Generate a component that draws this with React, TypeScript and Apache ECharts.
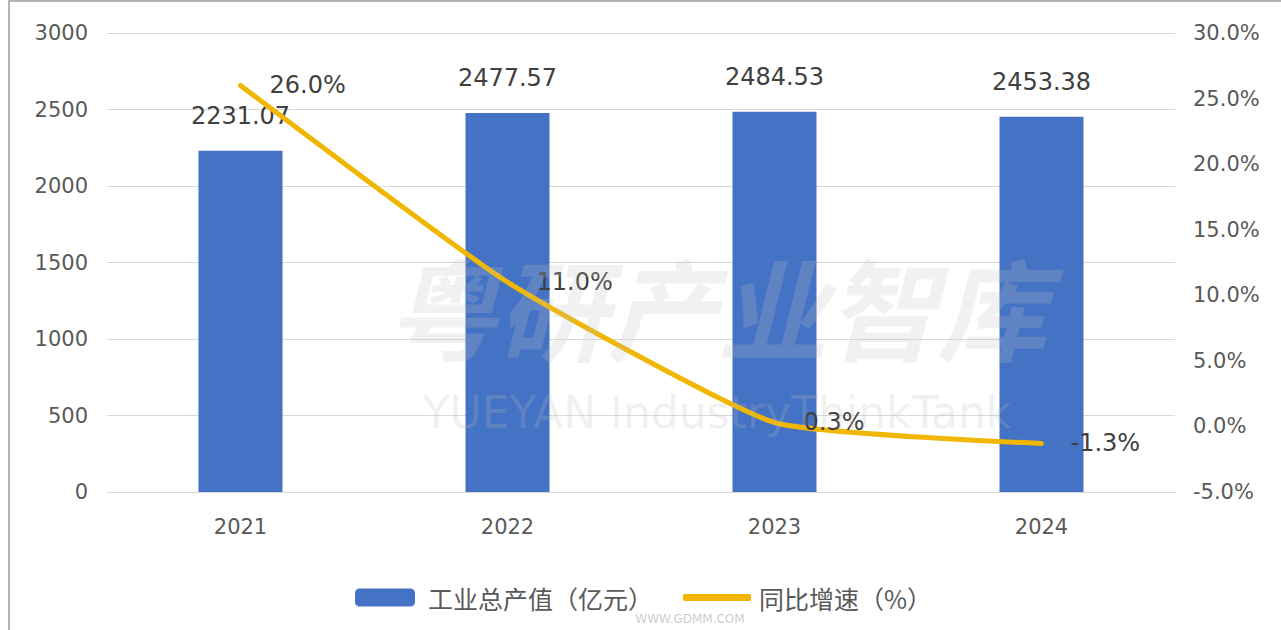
import React, { useEffect, useRef } from "react";
import * as echarts from "echarts";

const years = ["2021", "2022", "2023", "2024"];
const outputValue = [2231.07, 2477.57, 2484.53, 2453.38];
const growthRate = [26.0, 11.0, 0.3, -1.3];
const barName = "工业总产值（亿元）";
const lineName = "同比增速（%）";

const BLUE = "#4472C4";
const GOLD = "#F0B600";
const AXIS_TXT = "#595959";
const LABEL_TXT = "#404040";
const NUM_FONT = "DejaVu Sans";
const CJK_FONT = "Noto Sans CJK SC";

export default function App() {
  const ref = useRef<HTMLDivElement>(null);
  useEffect(() => {
    if (!ref.current) return;
    const chart = echarts.init(ref.current, undefined, { renderer: "svg" });
    chart.setOption({
      animation: false,
      backgroundColor: "#ffffff",
      textStyle: { fontFamily: NUM_FONT },
      grid: { left: 107, right: 106, top: 33, bottom: 138 },
      legend: [
        {
          data: [barName],
          left: 350,
          top: 580,
          itemWidth: 60,
          itemHeight: 18,
          textStyle: { fontFamily: CJK_FONT, fontSize: 25, color: AXIS_TXT, padding: [0, 0, 0, 8] },
        },
        {
          data: [{ name: lineName, icon: "roundRect" }],
          left: 678,
          top: 580,
          itemWidth: 68,
          itemHeight: 7,
          itemStyle: { color: GOLD, opacity: 1 },
          textStyle: { fontFamily: CJK_FONT, fontSize: 25, color: AXIS_TXT, padding: [0, 0, 0, 3] },
        },
      ],
      graphic: [
        { type: "line", shape: { x1: 9, y1: 0, x2: 9, y2: 630 }, style: { stroke: "#b5b5b5", lineWidth: 2 } },
        { type: "line", shape: { x1: 9, y1: 1, x2: 1281, y2: 1 }, style: { stroke: "#b5b5b5", lineWidth: 2 } },
        {
          type: "text",
          x: 717,
          y: 305,
          z: 100,
          style: {
            text: "粤研产业智库",
            fontFamily: CJK_FONT,
            fontSize: 110,
            fontWeight: "bold",
            fontStyle: "italic",
            fill: "rgba(190,190,190,0.22)",
            textAlign: "center",
            textVerticalAlign: "middle",
          },
        },
        {
          type: "text",
          x: 717,
          y: 412,
          z: 100,
          style: {
            text: "YUEYAN IndustryThinkTank",
            fontFamily: NUM_FONT,
            fontSize: 44,
            fill: "rgba(190,190,190,0.22)",
            textAlign: "center",
            textVerticalAlign: "middle",
          },
        },
        {
          type: "text",
          x: 690,
          y: 619,
          z: 100,
          style: {
            text: "WWW.GDMM.COM",
            fontFamily: NUM_FONT,
            fontSize: 12,
            fill: "rgba(170,170,170,0.6)",
            textAlign: "center",
            textVerticalAlign: "middle",
          },
        },
      ],
      xAxis: {
        type: "category",
        data: years,
        axisLine: { show: true, lineStyle: { color: "#d9d9d9", width: 1 } },
        axisTick: { show: false },
        axisLabel: { color: AXIS_TXT, fontSize: 21, margin: 24, fontFamily: NUM_FONT },
      },
      yAxis: [
        {
          type: "value",
          min: 0,
          max: 3000,
          interval: 500,
          axisLine: { show: false },
          axisTick: { show: false },
          splitLine: { lineStyle: { color: "#d9d9d9", width: 1 } },
          axisLabel: {
            color: AXIS_TXT,
            fontSize: 21,
            margin: 19,
            fontFamily: NUM_FONT,
            formatter: (v: number) => String(v),
          },
        },
        {
          type: "value",
          min: -5,
          max: 30,
          interval: 5,
          axisLine: { show: false },
          axisTick: { show: false },
          splitLine: { show: false },
          axisLabel: {
            color: AXIS_TXT,
            fontSize: 21,
            margin: 18,
            fontFamily: NUM_FONT,
            formatter: (v: number) => v.toFixed(1) + "%",
          },
        },
      ],
      series: [
        {
          name: barName,
          type: "bar",
          data: outputValue,
          barWidth: 84,
          itemStyle: { color: BLUE },
          label: {
            show: true,
            position: "top",
            distance: 23,
            fontSize: 24,
            color: LABEL_TXT,
            fontFamily: NUM_FONT,
            formatter: (p: any) => p.value.toFixed(2),
          },
        },
        {
          name: lineName,
          type: "line",
          yAxisIndex: 1,
          data: growthRate,
          smooth: 0.15,
          symbol: "circle",
          symbolSize: 2,
          showSymbol: true,
          lineStyle: { color: GOLD, width: 5, cap: "round" },
          itemStyle: { color: GOLD },
          label: {
            show: true,
            position: "right",
            distance: 28,
            fontSize: 24,
            color: LABEL_TXT,
            fontFamily: NUM_FONT,
            formatter: (p: any) => p.value.toFixed(1) + "%",
          },
          z: 5,
        },
      ],
    });
    return () => chart.dispose();
  }, []);
  return (
    <div
      ref={ref}
      style={{ position: "absolute", left: 0, top: 0, width: 1281, height: 630 }}
    />
  );
}
